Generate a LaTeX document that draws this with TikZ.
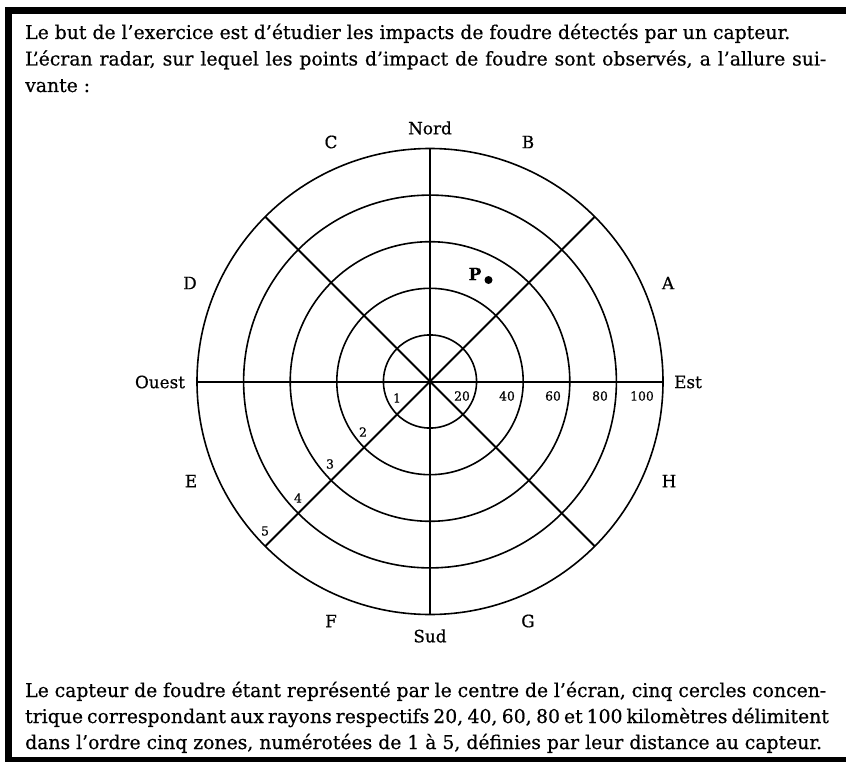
\documentclass[tikz,border=0pt]{standalone}
\usepackage{fontspec}
\setmainfont[FakeStretch=1.1,FakeBold=0.6]{DejaVu Serif Condensed}
\begin{document}
\begin{tikzpicture}[x=1pt,y=-1pt,
  txt/.style={anchor=base west,inner sep=0pt,font=\fontsize{19}{24}\selectfont},
  lbl/.style={inner sep=0pt,font=\fontsize{17}{20}\selectfont},
  num/.style={inner sep=0pt,font=\fontsize{12.5}{16}\selectfont},
  ring/.style={line width=1.6pt},
  axis/.style={line width=2pt}]
\useasboundingbox (0,0) rectangle (846,762);
% frame
\draw[line width=7pt] (8.5,860) -- (8.5,11) -- (900,11);
\draw[line width=5pt] (5,759.5) -- (900,759.5);
% top text
\node[txt] (t1) at (25,39) {Le but de l’exercice est d’étudier les impacts de foudre détectés par un capteur.};
\node[txt] (t2) at (25,65.5) {\makebox[801pt][s]{L’écran radar, sur lequel les points d’impact de foudre sont observés, a l’allure sui-}};
\node[txt] (t3) at (25,92) {vante :};
% bottom text
\node[txt] (b1) at (25,697) {\makebox[801pt][s]{Le capteur de foudre étant représenté par le centre de l’écran, cinq cercles concen-}};
\node[txt] (b2) at (25,723) {\makebox[801pt][s]{trique correspondant aux rayons respectifs 20, 40, 60, 80 et 100 kilomètres délimitent}};
\node[txt] (b3) at (25,749) {dans l’ordre cinq zones, numérotées de 1 à 5, définies par leur distance au capteur.};
% radar
\coordinate (O) at (430,381.5);
\foreach \r in {46.6,93.2,139.8,186.4,233} \draw[ring] (O) circle (\r);
\coordinate (W) at (197,381.5);
\coordinate (E) at (663,381.5);
\coordinate (N) at (430,148.5);
\coordinate (S) at (430,614.5);
\path (O) ++(-45:233) coordinate (NE) (O) ++(45:233) coordinate (SE)
      (O) ++(135:233) coordinate (SW) (O) ++(-135:233) coordinate (NW);
\draw[axis] (W) -- (E);
\draw[axis] (N) -- (S);
\draw[axis] (NE) -- (SW);
\draw[axis] (NW) -- (SE);
% cardinal labels
\node[lbl] (nord) at (430,128) {Nord};
\node[lbl] (sud) at (430,636) {Sud};
\node[lbl] (ouest) at (160,382) {Ouest};
\node[lbl] (est) at (688,382) {Est};
\node[lbl] (lA) at (668,283) {A};
\node[lbl] (lB) at (528,142) {B};
\node[lbl] (lC) at (331,142) {C};
\node[lbl] (lD) at (190,283) {D};
\node[lbl] (lE) at (191,481) {E};
\node[lbl] (lF) at (331,621) {F};
\node[lbl] (lG) at (528,621) {G};
\node[lbl] (lH) at (669,481) {H};
% distances
\node[num] (d20) at (462,396) {20};
\node[num] (d40) at (507,396) {40};
\node[num] (d60) at (553,396) {60};
\node[num] (d80) at (600,396) {80};
\node[num] (d100) at (642,396) {100};
% zones
\node[num] (z1) at (397,398) {1};
\node[num] (z2) at (363,432) {2};
\node[num] (z3) at (330,464) {3};
\node[num] (z4) at (298,498) {4};
\node[num] (z5) at (265,531) {5};
% point P
\fill (488.5,280) circle (4);
\node[lbl,font=\fontsize{17}{20}\selectfont\bfseries] (P) at (475,274) {P};
\end{tikzpicture}
\end{document}
